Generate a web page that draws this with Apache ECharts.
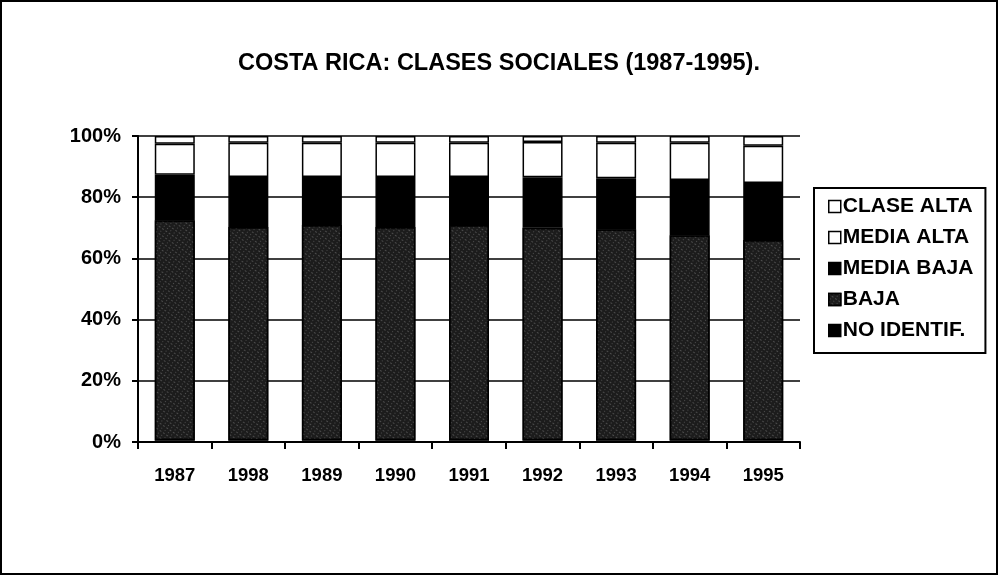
<!DOCTYPE html>
<html>
<head>
<meta charset="utf-8">
<script src="https://cdn.jsdelivr.net/npm/echarts@6/dist/echarts.min.js"></script>
<style>
html,body{margin:0;padding:0;background:#fff;}
#wrap{width:998px;height:575px;box-sizing:border-box;border:2px solid #000;background:#fff;overflow:hidden;}
#chart{width:994px;height:571px;}
</style>
</head>
<body>
<div id="wrap"><div id="chart"></div></div>
<script>
const categories = ['1987','1998','1989','1990','1991','1992','1993','1994','1995'];
const noIdentif  = [0.6, 0.6, 0.6, 0.6, 0.6, 0.6, 0.6, 0.6, 0.6];
const baja       = [71.9, 69.7, 70.3, 69.7, 70.3, 69.4, 68.9, 67.0, 65.4];
const mediaBaja  = [14.8, 16.3, 15.7, 16.3, 15.7, 16.5, 16.7, 18.0, 18.6];
const mediaAlta  = [10.2, 11.2, 11.2, 11.2, 11.2, 11.5, 11.6, 12.2, 12.2];
const claseAlta  = [2.5, 2.2, 2.2, 2.2, 2.2, 2.0, 2.2, 2.2, 3.2];
const yTicks = [0, 20, 40, 60, 80, 100];
const legendOrder = ['CLASE ALTA','MEDIA ALTA','MEDIA BAJA','BAJA','NO IDENTIF.'];

const font = 'Liberation Sans, Arial, sans-serif';
const chart = echarts.init(document.getElementById('chart'), null, {renderer:'canvas'});

function mk(name, data, color, decal){
  const s = {
    name, type:'bar', stack:'total', data, barWidth:40,
    itemStyle:{color, borderColor:'#000', borderWidth:1.5},
    emphasis:{disabled:true}
  };
  if (decal) s.itemStyle.decal = decal;
  return s;
}
const speckle = {
  symbol:'rect', color:'rgba(255,255,255,0.7)', symbolSize:0.6,
  dashArrayX:[[1,3],[2,2]], dashArrayY:[1,2], rotation:0.6
};

chart.setOption({
  animation:false,
  aria:{enabled:true, decal:{show:false}},
  title:{
    text:'COSTA RICA: CLASES SOCIALES (1987-1995).',
    left:'center', top:45,
    textStyle:{fontFamily:font, fontWeight:'bold', fontSize:23.5, color:'#000'}
  },
  legend:{
    orient:'vertical', left:812, top:186,
    data:legendOrder,
    itemWidth:12, itemHeight:12, itemGap:10,
    padding:[8,12,12,14],
    borderColor:'#000', borderWidth:2,
    textStyle:{fontFamily:font, fontWeight:'bold', fontSize:21, color:'#000', padding:[0,0,0,-3]},
    icon:'rect',
    itemStyle:{borderColor:'#000', borderWidth:1.5}
  },
  grid:{left:136, right:196, top:134, bottom:131},
  xAxis:{
    type:'category', data:categories,
    axisLine:{lineStyle:{color:'#000', width:2}},
    axisTick:{show:true, length:7, lineStyle:{color:'#000', width:2}},
    axisLabel:{fontFamily:font, fontWeight:'bold', fontSize:18.5, color:'#000', margin:24}
  },
  yAxis:{
    type:'value', min:0, max:100, interval:20,
    axisLine:{show:true, lineStyle:{color:'#000', width:2}},
    axisTick:{show:true, length:6, lineStyle:{color:'#000', width:2}},
    axisLabel:{fontFamily:font, fontWeight:'bold', fontSize:20, color:'#000', margin:17,
      formatter:v=> yTicks.includes(v) ? v + '%' : ''},
    splitLine:{show:true, lineStyle:{color:'#000', width:1.5}}
  },
  series:[
    mk('NO IDENTIF.', noIdentif, '#000'),
    mk('BAJA', baja, '#1c1c1c', speckle),
    mk('MEDIA BAJA', mediaBaja, '#000'),
    mk('MEDIA ALTA', mediaAlta, '#fff'),
    mk('CLASE ALTA', claseAlta, '#fff')
  ]
});
</script>
</body>
</html>
